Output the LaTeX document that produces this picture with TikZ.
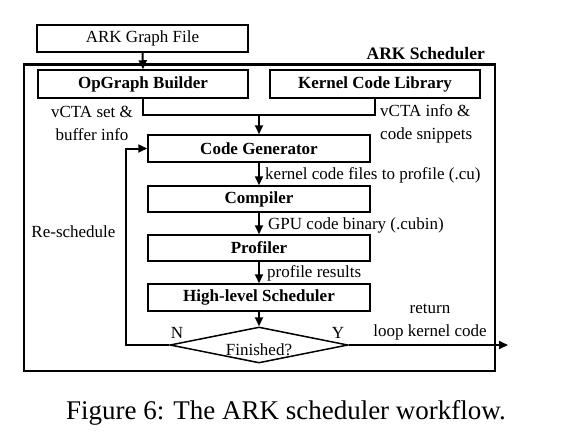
\documentclass[tikz,border=0pt]{standalone}
\usepackage{fontspec}
\setmainfont{Liberation Serif}
\usetikzlibrary{arrows.meta,shapes.geometric}
\begin{document}
\begin{tikzpicture}[x=1pt,y=-1pt,
  every node/.style={font=\fontsize{17}{23}\selectfont, inner sep=0pt},
  box/.style={draw, line width=1.5pt, minimum height=27pt},
  bbox/.style={box, font=\fontsize{17}{23}\selectfont\bfseries},
  conn/.style={line width=2pt},
  arr/.style={conn, -{Triangle[length=9pt,width=8pt]}},
  lbl/.style={anchor=west}
]
\useasboundingbox (0,0) rectangle (572,442);
% outer frame
\draw[line width=2.6pt] (24,64.5) rectangle (495,371);
\node[anchor=base east, font=\fontsize{17.5}{20}\selectfont\bfseries] (title) at (485,59) {ARK Scheduler};

\node[box, minimum width=211pt] (graph) at (142.5,38.5) {ARK Graph File};
\node[bbox, minimum width=210pt, minimum height=28pt] (opg) at (143,84) {OpGraph Builder};
\node[bbox, minimum width=210pt, minimum height=28pt] (kcl) at (375,84) {Kernel Code Library};
\node[bbox, minimum width=222pt] (cg) at (259,148.5) {Code Generator};
\node[bbox, minimum width=222pt, minimum height=26pt] (comp) at (259,199) {Compiler};
\node[bbox, minimum width=222pt, minimum height=26pt] (prof) at (259,248) {Profiler};
\node[bbox, minimum width=222pt] (hls) at (259,297.5) {High-level Scheduler};
\node[draw, line width=1.5pt, diamond, aspect=4.94, minimum width=178pt, minimum height=36pt,
      text height=20pt, text depth=0pt] (dia) at (259,345) {Finished?};

\coordinate (j) at (259,115);
\coordinate (fb) at (126,345);
\coordinate (out) at (508,345);

\draw[arr] (graph.south) -- (opg.north);
\draw[conn] (opg.south) |- (j) -| (kcl.south);
\draw[arr] (j) -- (cg.north);
\draw[arr] (cg.south) -- (comp.north);
\draw[arr] (comp.south) -- (prof.north);
\draw[arr] (prof.south) -- (hls.north);
\draw[arr] (hls.south) -- (dia.north);
\draw[arr] (dia.west) -- (fb) |- (cg.west);
\draw[arr] (dia.east) -- (out);

\node[align=center] (l1) at (92,123.5) {vCTA set \&\\buffer info};
\node[align=left, anchor=west] (l2) at (380,123.5) {vCTA info \&\\code snippets};
\node[lbl] (l3) at (265,175) {kernel code files to profile (.cu)};
\node[lbl] (l4) at (268,225) {GPU code binary (.cubin)};
\node[lbl] (l5) at (267,273) {profile results};
\node (l6) at (73.5,232) {Re-schedule};
\node (ln) at (177,333) {N};
\node (ly) at (338,333) {Y};
\node[align=center] (l7) at (430,322.5) {return\\loop kernel code};
\node[font=\fontsize{27}{30}\selectfont] (cap) at (286,413) {Figure 6: The ARK scheduler workflow.};
\end{tikzpicture}
\end{document}
